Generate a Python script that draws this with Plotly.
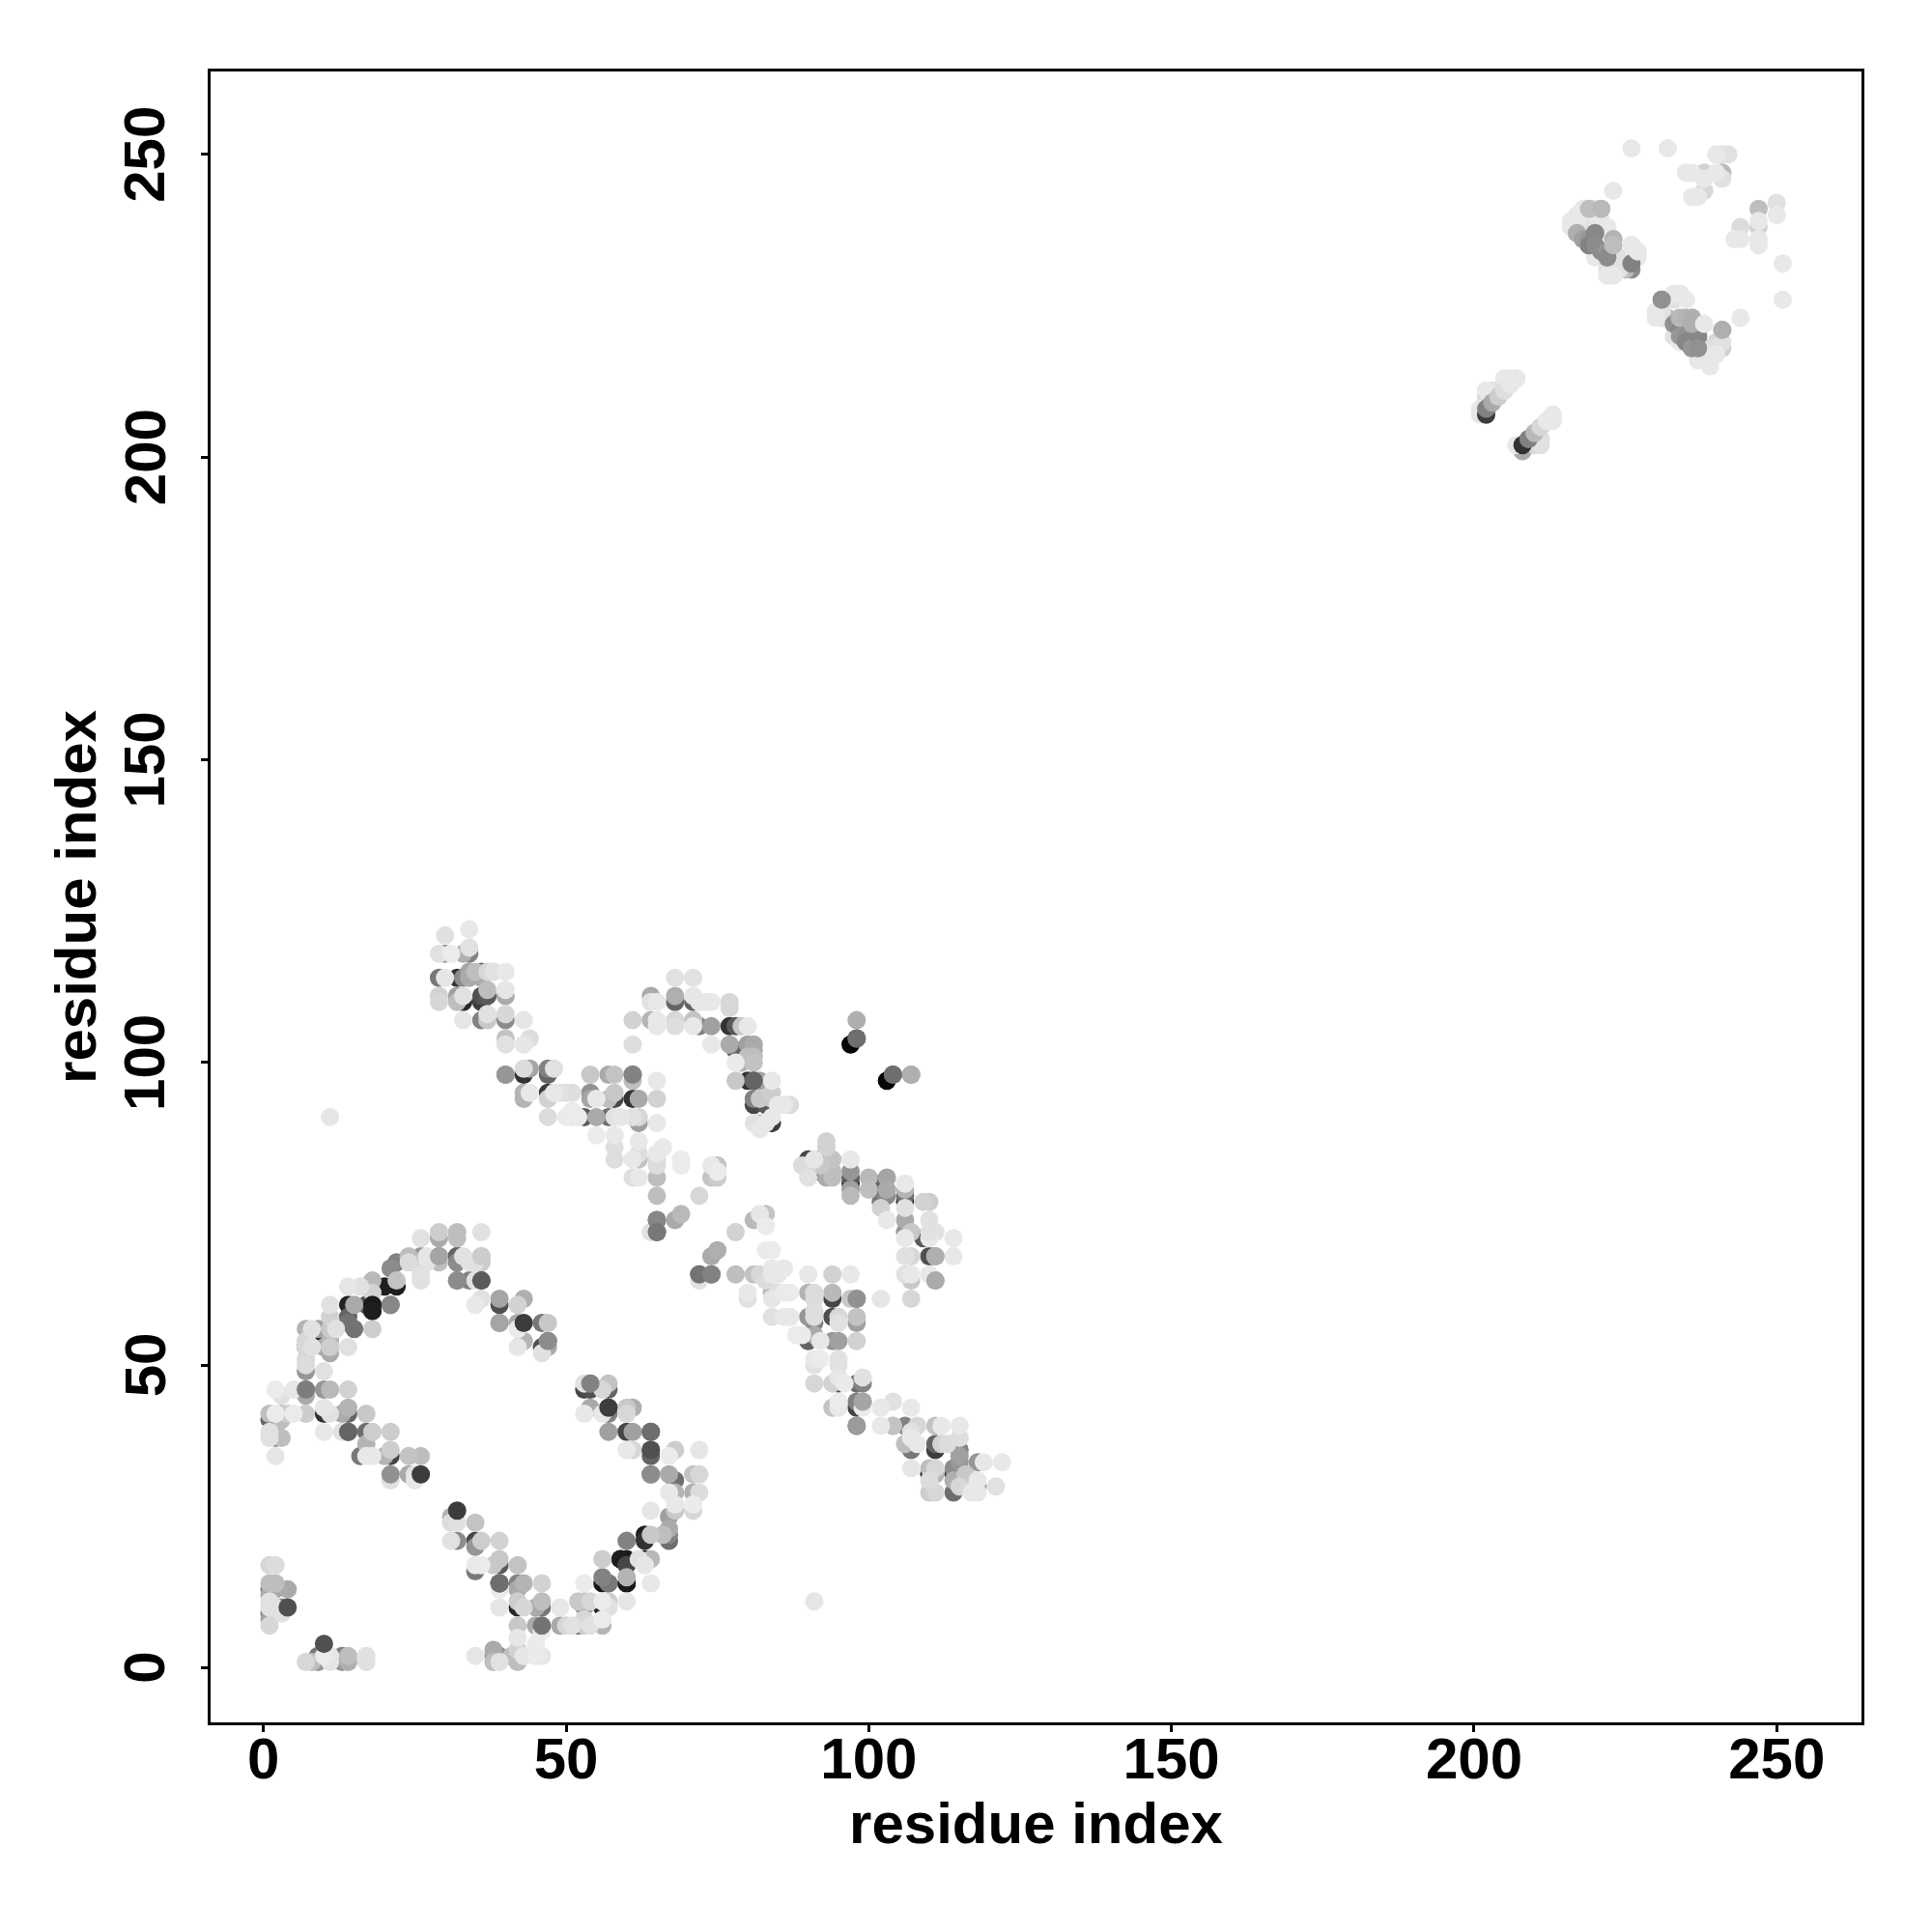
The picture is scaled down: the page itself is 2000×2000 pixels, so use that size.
import numpy as np
import plotly.graph_objects as go

# each row of a region holds the same number of points in x, y and shade
corner_x = [1,2,1,2,1,2,4,1,1,1, 3,2,1,2,1,3,1, 7,8,9, 9,10,11,11,13,13,14,14,17,17]
corner_y = [17,17,14,14,13,13,13,12,11,10, 10,10,9,9,8,9,7, 1,1,1, 2,2,1,2,2,1,2,1,1,2]
corner_s = [215,220,190,190,130,165,170,170,225,225, 130,225,130,215,160,225,215, 215,190,150, 120,235,230,230,130,150,190,175,225,225]

arc_x = [32,34,35,36,39,39,36,35,39,42, 42,42,46,47,43,42,47,46,47,46,
         32,32,36,34,26,29,22,21,22,22, 20,24,25,27,18,18,17,16,14,21,
         18,18,17,15,14,11,11,18,14,14, 10,12,11,9,8,7,14,11,11,11,
         10,7,7,7,8,7,7,7,10,7, 7,10,11,14,2,3,5,7,10,10,
         11,13,14,14,17,10,13,14,17,18, 21,17,16,17,18,20,21,21,24,26,
         21,24,25,25,1,1,2,3,4,5, 3,1,2,2,3,1,2,36,43,
         26,29,29,32,32,36,24,26,27,29, 32,32,33,36,35,26]
arc_y = [64,64,64,64,61,60,61,60,57,60, 57,56,57,57,54,53,54,53,53,52,
         67,68,67,67,64,67,67,66,64,63, 63,67,67,67,64,62,63,63,63,60,
         60,59,60,60,60,60,58,56,58,57, 55,56,56,56,56,56,53,54,52,53,
         53,54,53,53,53,51,50,49,49,46, 45,46,46,46,46,45,46,42,43,42,
         42,42,43,42,42,39,39,39,39,39, 39,37,35,35,35,35,36,35,35,35,
         31,32,32,31,42,41,42,42,42,42, 41,39,39,38,38,38,35,67,61,
         71,72,71,72,71,72,68,68,68,68, 68,67,68,68,67,65]
arc_s = [140,130,225,90,165,80,225,232,165,210, 170,235,120,200,180,230,140,80,170,225,
         140,100,205,225,225,190,130,140,195,30, 30,220,190,225,185,210,40,225,230,135,
         25,30,80,170,35,225,210,205,100,115, 30,225,200,160,225,180,225,180,170,205,
         170,215,100,215,225,215,220,150,225,125, 170,150,185,210,235,225,232,205,230,50,
         225,170,180,100,200,232,225,100,110,205, 205,180,120,232,232,180,205,70,195,190,
         225,170,225,230,190,100,235,190,205,235, 190,225,170,140,190,225,230,205,175,
         225,205,170,190,190,225,190,150,230,165, 60,130,225,200,225,225]

lower_x = [31,31,32,31,32,35,35,36,35,39, 35,35,36,38,39,39,42,39,39,42,
           42,43,46,39,42,42,43,45,46,46, 49,42,45,49,50,51,46,42,45,46,
           45,35,38,38,39,38,39,41,42,42, 42,43,52,53,53,54,53,56,57,56,
           56,59,60,60,56,56,57,60,57,53, 52,53,54,56,56,53,63,62,64,63,
           63,63,64,64,60,66,67,67,67,67, 68,68,71,71,64,59,60,60,60,57]
lower_y = [25,24,24,21,21,24,21,21,20,21, 17,16,17,17,18,17,17,14,13,14,
           13,14,14,10,10,11,10,10,11,10, 10,7,7,7,7,7,6,5,4,2,
           2,2,3,2,2,1,1,2,3,1, 2,2,11,11,10,11,14,15,14,11,
           10,18,17,21,8,7,10,11,11,7, 7,8,7,14,18,8,21,18,22,18,
           22,17,18,14,14,22,25,23,22,21, 26,27,26,27,26,18,18,15,14,14]
lower_s = [180,220,225,225,140,195,70,205,150,210, 232,120,235,200,200,90,195,110,235,130,
           170,180,210,230,40,205,215,170,190,120, 230,200,170,170,215,225,235,230,235,230,
           235,230,170,150,145,190,225,190,210,190, 80,230,200,190,160,215,235,130,110,235,
           40,30,70,130,235,180,225,230,205,205, 120,215,225,20,205,215,50,225,200,30,
           30,230,185,232,25,190,160,170,130,110, 200,232,215,235,230,30,25,180,25,120]

mid_left_x = [53,54,53,54,57,57,56,53,54,57, 57,56,60,61,60,57,60,61,64,60,
              61,64,64,68,72,64,67,68,71,72, 67,68,67,71,72]
mid_left_y = [47,47,46,46,47,46,46,42,43,43, 42,42,43,43,42,39,39,39,39,36,
              36,36,35,36,36,32,32,31,32,32, 35,29,29,29,29]
mid_left_s = [225,130,70,80,195,100,215,232,170,60, 130,232,200,175,215,160,70,160,110,232,
              215,80,100,205,230,140,170,110,195,215, 235,180,232,175,220]

patch_x = [65,65,64,68,69,78,81,82,83,83, 75,74,83,84,72,74,72,78,81,82,
           84,86,85,84,83,90,94,97,80,80, 84,84,85,86,87,90,91,91,94,94,
           97,98,102,107,84,86,87,90,91,91, 91,94,95,95,98,98,88,89,91,90,
           92,94,95,98,91,91,92,95,95,91, 94,95,96,95,98,99,99,94,95,95,
           98,98,99,99,98,102,104,107]
patch_y = [74,72,72,74,75,72,74,75,75,73, 69,68,69,69,65,65,64,65,65,65,
           66,66,65,65,64,65,65,65,62,61, 62,61,62,62,62,62,62,61,62,61,
           61,61,61,61,58,58,58,58,59,58, 57,58,58,57,58,57,55,55,55,54,
           54,54,54,54,51,50,51,51,50,47, 47,47,47,48,47,48,47,43,44,43,
           44,43,44,43,40,43,44,43]
patch_s = [120,105,225,170,185,210,185,230,195,235, 175,170,235,235,115,130,225,190,195,215,
           232,232,230,232,220,232,210,232,232,225, 185,230,222,235,235,180,220,220,185,70,
           200,145,230,215,225,232,232,150,222,222, 130,80,215,225,195,160,235,235,170,100,
           232,150,160,210,232,225,235,225,225,215, 210,80,235,230,110,225,130,195,235,232,
           130,70,165,235,155,232,225,232]

tail_x = [102,104,106,108,111,112,115,107,106,107, 108,111,111,112,113,115,115,115,115,114,
          114,118,119,122,107,110,110,111,111,110, 110,111,114,115,117,118,118,118,121,114,
          116,104,107]
tail_y = [40,40,40,40,40,40,40,38,37,36, 37,37,36,37,37,38,36,35,34,33,
          32,34,34,34,33,33,32,33,32,31, 29,29,29,30,29,30,31,29,30,31,
          32,40,39]
tail_s = [232,195,130,215,195,232,232,232,190,120, 232,100,60,210,220,222,130,160,150,140,
          60,150,232,232,230,190,40,215,180,220, 205,215,110,215,232,150,232,232,225,175,
          200,195,225]

left_top_x = [34,30,29,30,31,33,34,34,29,30, 32,33,34,35,34,36,37,38,40,36,
              29,29,32,33,32,33,36,37,37,36, 40,40,33,36,37,37,40,40,43,40,
              40,43,44]
left_top_y = [122,121,118,118,118,118,119,118,114,114, 114,114,115,115,114,115,115,115,115,114,
              111,110,111,110,110,111,111,112,111,110, 112,111,107,107,108,107,108,107,107,104,
              103,103,104]
left_top_s = [232,225,225,150,235,175,225,130,120,230, 50,140,165,190,170,110,215,225,232,170,
              210,215,160,40,190,225,80,190,90,60, 230,170,230,130,225,200,215,140,230,195,
              225,230,222]

band_x = [40,43,43,44,47,47,48,43,44,43, 47,48,47,49,50,51,47,50,51,51,
          52,54,57,58,61,61,65,54,54,55, 58,57,58,61,62,65,53,55,57,58,
          59,61,62,62,65,55,58,58,58,62, 62,62,61,66,65,65,69,69,65,61,
          62,65,65,72,74,75,74,75,75,11, 91]
band_y = [98,98,99,99,99,98,99,95,95,94, 95,95,94,95,95,95,91,91,92,91,
          91,98,98,98,98,97,97,95,94,94, 95,94,94,94,94,94,91,91,91,91,
          91,91,91,90,90,88,88,86,84,87, 85,84,84,86,85,84,84,83,83,81,
          81,81,78,78,83,83,81,81,82,91, 11]
band_s = [150,50,220,165,130,100,225,180,232,180, 60,232,210,225,222,222,220,235,235,232,
          235,200,170,195,130,190,232,145,165,232, 200,190,70,50,170,210,90,170,110,225,
          230,225,215,160,232,235,232,222,222,232, 222,195,232,232,232,220,235,235,220,222,
          232,190,190,215,232,195,195,205,235,230, 230]

arch_x = [68,71,64,64,65,68,68,71,71,72, 73,74,77,77,61,64,65,65,68,68,
          71,72,71,74,77,78,79,80,61,74, 77,78,79,80,81,81,80,81,79,81,
          78,78,80,81,82,84,81,81,82,84, 83,84,86,87,85,81,82,84,84,83,
          82]
arch_y = [114,114,111,110,110,111,110,110,111,110, 110,110,110,109,107,107,107,106,107,106,
          107,106,106,106,106,106,106,106,103,103, 103,102,102,103,103,102,101,101,100,100,
          100,97,97,97,97,97,94,93,94,95, 93,94,93,93,93,90,90,91,90,90,
          89]
arch_s = [225,225,170,225,232,175,100,100,230,232, 232,232,215,215,210,180,232,232,215,222,
          195,130,232,160,50,90,200,232,222,232, 170,100,60,160,170,170,190,190,180,195,
          235,200,50,100,165,232,130,70,200,205, 90,200,232,220,232,225,190,232,60,232,
          232]

right_x = [98,98,97,104,103,107,93,93,90,91, 90,89,90,90,92,92,93,94,94,94,
           92,97,97,97,97,97,97,100,100,103, 102,102,102,103,103,102,103,106,106,106,
           106,106,109,110,106,106,107,106,110,109, 111,110,114,106,107,110,111,114,106,107,
           107,110,111]
right_y = [107,104,103,98,97,98,87,86,84,84, 83,83,82,81,84,82,81,84,82,81,
           83,84,82,80,81,79,78,81,79,81, 80,79,77,78,79,76,74,80,78,77,
           79,76,77,77,74,72,72,71,74,71, 72,71,71,68,68,68,68,68,65,65,
           64,65,64]
right_s = [175,110,5,110,5,175,210,210,70,230, 210,220,170,225,100,100,170,195,190,190,
           200,232,150,60,90,160,185,185,190,165, 90,100,120,140,170,210,232,232,110,60,
           180,225,210,205,170,150,200,232,225,90, 225,232,232,225,215,80,175,232,225,232,
           200,232,170]

far_x = [226,232,240,241,242,235,236,238,240,241, 236,237,238,238,241,223,250,250,247,247,
         247,247,247,244,243,244,251,251,244]
far_y = [251,251,250,250,250,247,247,247,247,247, 243,243,244,246,246,244,242,240,241,239,
         238,235,236,238,236,236,232,226,223]
far_s = [232,232,232,225,225,232,232,210,232,185, 232,232,215,232,225,232,225,232,190,232,
         210,232,232,220,232,232,232,232,232]

diag_a_x = [216,217,218,219,221,220,217,218,219,219, 220,220,221,222,222,223,223,221,222,216,
            217,219,218,219,220,222,222,223,224,224, 224,226,226,225,226,227,227,220,221,222]
diag_a_y = [239,240,241,241,241,241,237,236,236,235, 237,235,234,234,233,236,235,238,238,238,
            239,239,239,237,233,231,230,230,231,233, 232,232,231,231,235,234,233,240,239,237]
diag_a_s = [232,232,232,190,185,225,150,130,120,100, 90,110,110,130,120,170,180,232,232,230,
            232,225,210,222,232,225,232,232,225,225, 225,120,140,190,232,232,232,232,232,232]

diag_b_x = [233,235,234,231,233,230,230,231,232,231, 233,234,234,235,235,236,237,237,236,236,
            235,234,238,241,241,241,240,239,240,239, 238,239,238,237,234,233]
diag_b_y = [227,226,227,226,226,224,223,224,223,223, 222,221,220,220,219,218,220,218,223,222,
            223,223,222,221,219,218,219,218,217,216, 217,215,216,216,219,220]
diag_b_s = [232,232,232,140,225,232,232,225,190,225, 120,110,130,120,110,130,90,120,170,170,
            170,180,232,175,225,210,215,222,232,232, 232,232,225,232,232,225]

pair_x = [201,202,201,202,203,202,203,202,204,205, 205,207,206,205,207,208,208,209,210,210,
          211,211,212,213,213,211]
pair_y = [208,208,207,207,209,210,211,211,210,212, 213,213,213,211,202,202,201,203,202,204,
          203,205,206,207,206,202]
pair_s = [232,70,232,232,170,215,225,232,210,200, 232,232,232,222,232,60,170,140,215,190,
          222,225,232,232,232,225]

# marks that sit above their neighbours in the reference, drawn in this order
top_x = [4,10,32,43,26,57,36,39,32,18, 18,39,15,46,39,54,47,7,14,98,
         99,72,74,65,65,40,98,64,64,64, 81,104,98,107,111,111,21,21,61,110,
         29,36,
         217,218,219,219,220,220,221,222,222,223, 223,226,226,227,219,221,
         233,234,234,235,235,236,237,237,234,235, 236,236,238,241,231,
         202,202,203,204,205,206,207,
         208,209,210,211,212,213]
top_y = [10,4,26,57,32,43,64,57,64,60, 59,14,56,7,14,47,54,46,39,61,
         44,65,65,74,72,98,40,36,39,32, 97,98,104,98,64,68,60,32,98,72,
         68,68,
         237,236,236,235,237,235,234,234,233,236, 235,232,235,234,241,241,
         222,221,220,220,219,218,220,218,223,223, 223,222,222,221,226,
         207,208,209,210,211,212,213,
         202,203,204,205,206,207]
top_s = [80,80,60,60,60,60,90,165,140,25, 30,110,115,115,110,130,140,125,100,145,
         165,115,130,135,120,150,155,80,110,140, 100,110,110,175,170,175,135,145,130,225,
         165,205,
         175,160,150,130,135,140,140,150,140,180, 190,130,232,232,190,185,
         145,135,150,145,135,150,135,145,185,180, 175,175,232,175,145,
         60,130,170,205,222,232,232,
         50,130,185,215,232,232]

tick_vals = [0, 50, 100, 150, 200, 250]
tick_text = ["0", "50", "100", "150", "200", "250"]

regions = [
    (corner_x, corner_y, corner_s), (arc_x, arc_y, arc_s), (lower_x, lower_y, lower_s),
    (mid_left_x, mid_left_y, mid_left_s), (patch_x, patch_y, patch_s), (tail_x, tail_y, tail_s),
    (left_top_x, left_top_y, left_top_s), (band_x, band_y, band_s), (arch_x, arch_y, arch_s),
    (right_x, right_y, right_s), (far_x, far_y, far_s), (diag_a_x, diag_a_y, diag_a_s),
    (diag_b_x, diag_b_y, diag_b_s), (pair_x, pair_y, pair_s),
]
for i, (a, b, c) in enumerate(regions):
    assert len(a) == len(b) == len(c), (i, len(a), len(b), len(c))
assert len(top_x) == len(top_y) == len(top_s), (len(top_x), len(top_y), len(top_s))

xs = np.concatenate([r[0] for r in regions])
ys = np.concatenate([r[1] for r in regions])
ss = np.concatenate([r[2] for r in regions])
order = np.argsort(ss, kind="stable")
xs = np.concatenate([xs[order], top_x])
ys = np.concatenate([ys[order], top_y])
ss = np.concatenate([ss[order], top_s])

fig = go.Figure(go.Scatter(
    x=xs, y=ys, mode="markers",
    marker=dict(size=19, color=ss, cmin=0, cmax=255,
                colorscale=[[0, "black"], [1, "white"]], line=dict(width=0)),
    showlegend=False,
))

font = dict(family="Liberation Sans", size=60, color="black", weight="bold")
common = dict(tickmode="array", tickvals=tick_vals, ticktext=tick_text, ticks="outside",
              ticklen=7, tickwidth=3, tickcolor="black", showgrid=False, zeroline=False,
              showline=True, linewidth=3, linecolor="black", mirror=True, tickfont=font)
fig.update_xaxes(range=[-8.73, 264.0], ticklabelstandoff=-24,
                 title=dict(text="residue index", font=font, standoff=5), **common)
fig.update_yaxes(range=[-8.98, 263.7], showticklabels=False,
                 title=dict(text="residue index", font=font, standoff=90), **common)
# the y labels are centred on their ticks, so they are placed as text at the tick values
for val, txt in zip(tick_vals, tick_text):
    fig.add_annotation(x=0, xref="paper", y=val, yref="y", text=txt, textangle=-90,
                       showarrow=False, font=font, xanchor="center", yanchor="middle",
                       xshift=-68)
fig.update_layout(width=2000, height=2000, margin=dict(l=218, r=73, t=74, b=217),
                  plot_bgcolor="white", paper_bgcolor="white")
fig.write_html("out.html", post_script="document.body.style.margin='0';",
               config=dict(displayModeBar=False))
